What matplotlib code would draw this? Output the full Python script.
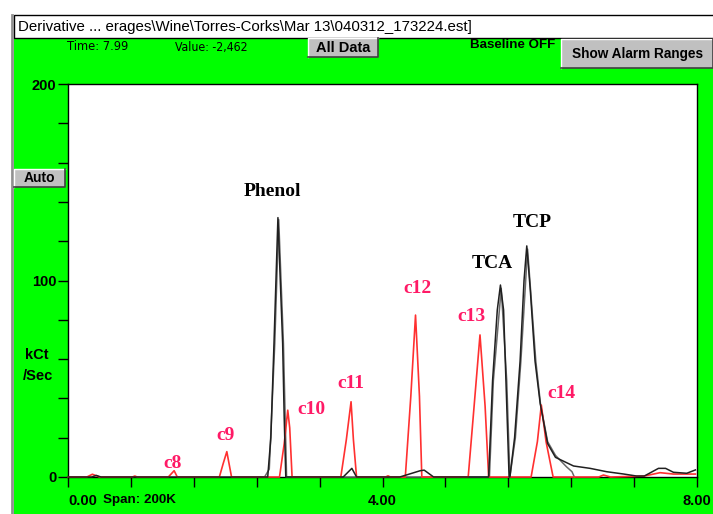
import matplotlib
matplotlib.use("Agg")
import matplotlib.pyplot as plt
from matplotlib.patches import Rectangle

# --- traces (time in min, value in kCt/Sec) ---
black_t = [0.00, 0.30, 0.36, 0.42, 2.54, 2.58, 2.62, 2.67, 2.73, 2.75, 2.77,
           3.50, 3.61, 3.67, 4.22, 4.48, 4.53, 4.65,
           5.35, 5.40, 5.46, 5.50, 5.54, 5.57, 5.61,
           5.62, 5.68, 5.75, 5.80, 5.835, 5.88, 5.94, 6.005, 6.10, 6.20,
           6.43, 6.64, 6.85, 7.07, 7.23, 7.33, 7.51, 7.60, 7.70, 7.87, 7.98]
black_v = [0.0, 0.0, 0.8, 0.0, 0.0, 20.0, 68.0, 132.0, 68.0, 30.0, 0.0,
           0.0, 4.4, 0.0, 0.0, 3.2, 3.5, 0.0,
           0.0, 49.0, 85.0, 97.7, 85.0, 49.0, 0.0,
           0.0, 20.0, 59.0, 100.0, 117.6, 95.0, 59.0, 37.6, 17.0, 10.0,
           5.6, 4.4, 2.7, 1.5, 0.5, 0.5, 4.4, 4.4, 2.4, 1.9, 3.6]

gray_t = [2.50, 2.56, 2.63, 2.68, 2.74, 2.78,
          5.36, 5.41, 5.51, 5.58, 5.62,
          5.69, 5.76, 5.845, 5.95, 6.01, 6.10, 6.20, 6.34, 6.41, 6.44]
gray_v = [0.0, 4.0, 68.0, 131.0, 68.0, 0.0,
          0.0, 49.0, 96.0, 49.0, 0.0,
          20.0, 59.0, 116.0, 59.0, 37.0, 18.0, 11.0, 5.2, 2.7, 0.0]

red_t = [0.00, 0.24, 0.31, 0.40, 0.82, 0.85, 0.88,
         1.276, 1.35, 1.39, 1.925, 1.975, 2.02, 2.08,
         2.69, 2.75, 2.795, 2.82, 2.85,
         3.47, 3.54, 3.60, 3.63, 3.67, 4.04, 4.07, 4.10,
         4.29, 4.36, 4.42, 4.47, 4.50,
         5.09, 5.165, 5.24, 5.305, 5.35,
         5.89, 5.97, 6.02, 6.08, 6.17,
         6.75, 6.81, 6.90, 7.33, 7.53, 7.70, 7.98]
red_v = [0.0, 0.0, 1.4, 0.0, 0.0, 0.5, 0.0,
         0.0, 3.2, 0.0, 0.0, 7.0, 12.9, 0.0,
         0.0, 17.0, 34.0, 25.0, 0.0,
         0.0, 19.0, 38.3, 19.0, 0.0, 0.0, 0.6, 0.0,
         0.0, 41.0, 82.4, 41.0, 0.0,
         0.0, 36.0, 72.3, 36.0, 0.0,
         0.0, 18.0, 36.6, 18.0, 0.0,
         0.0, 1.0, 0.0, 0.5, 2.2, 1.5, 1.5]

black_labels = ["Phenol", "TCA", "TCP"]
black_label_pos = [(2.60, 145.3), (5.395, 108.9), (5.90, 129.7)]
red_labels = ["c8", "c9", "c10", "c11", "c12", "c13", "c14"]
red_label_pos = [(1.335, 7.1), (2.01, 20.9), (3.10, 34.1), (3.60, 47.8),
                 (4.45, 95.7), (5.125, 81.9), (6.28, 42.7)]

title = "Derivative ... erages\\Wine\\Torres-Corks\\Mar 13\\040312_173224.est]"

GREEN = "#00ff00"
BTN = "#c0c0c0"
SANS = ["Liberation Sans", "DejaVu Sans"]
SERIF = ["Liberation Serif", "DejaVu Serif"]

fig = plt.figure(figsize=(7.13, 5.14), dpi=100, facecolor="white")

# window chrome drawn in pixel coordinates
bg = fig.add_axes([0, 0, 1, 1], zorder=0)
bg.set_xlim(0, 713)
bg.set_ylim(514, 0)
bg.axis("off")

bg.add_patch(Rectangle((14, 38), 700, 480, facecolor=GREEN, edgecolor="none"))
bg.add_patch(Rectangle((14, 15), 700, 23, facecolor="white", edgecolor="black", lw=1))
bg.plot([11.5, 11.5], [15, 514], color="#909090", lw=2)
bg.text(18, 26.5, title, fontsize=10.8, family=SANS, va="center", ha="left")


def button(x, y, w, h, label, size):
    bg.add_patch(Rectangle((x, y), w, h, facecolor=BTN, edgecolor="none"))
    bg.plot([x, x, x + w], [y + h, y, y], color="white", lw=1)
    bg.plot([x, x + w, x + w], [y + h, y + h, y], color="#404040", lw=1.2)
    bg.text(x + w / 2, y + h / 2 + 0.5, label, fontsize=size, fontweight="bold",
            family=SANS, ha="center", va="center")


button(308, 38, 70, 19, "All Data", 10.5)
button(561, 39, 152, 29, "Show Alarm Ranges", 9.8)
button(14, 169, 51, 18, "Auto", 10)

bg.text(67, 47, "Time: 7.99", fontsize=9.2, family="DejaVu Sans", fontstretch="condensed", va="center")
bg.text(175, 47, "Value: -2,462", fontsize=8.8, family="DejaVu Sans", fontstretch="condensed", va="center")
bg.text(470, 45, "Baseline OFF", fontsize=9.6, fontweight="bold", family=SANS, va="center")
bg.text(37, 355, "kCt", fontsize=10.5, fontweight="bold", family=SANS, ha="center", va="center")
bg.text(38, 376, "/Sec", fontsize=10.5, fontweight="bold", family=SANS, ha="center", va="center")
bg.text(103, 500, "Span: 200K", fontsize=9.6, fontweight="bold", family=SANS, va="center")

# plot area
ax = fig.add_axes([68 / 713, 37 / 514, 629 / 713, 393 / 514], zorder=1)
ax.set_facecolor("white")
ax.set_xlim(0, 8)
ax.set_ylim(0, 200)
for s in ax.spines.values():
    s.set_color("black")
    s.set_linewidth(1)

ax.plot(gray_t, gray_v, color="#6a6a6a", lw=1.1, zorder=3, clip_on=False)
ax.plot(red_t, red_v, color="#ff3030", lw=1.2, zorder=3, clip_on=False)
ax.plot(black_t, black_v, color="#202020", lw=1.1, zorder=4, clip_on=False)

for lab, (x, y) in zip(black_labels, black_label_pos):
    ax.text(x, y, lab, fontsize=14, fontweight="bold", family=SERIF,
            color="black", ha="center", va="center")
for lab, (x, y) in zip(red_labels, red_label_pos):
    ax.text(x, y, lab, fontsize=14, fontweight="bold", family=SERIF,
            color="#ff1a66", ha="center", va="center")

ax.set_yticks(range(0, 201, 20))
ax.set_yticklabels(["0" if v == 0 else str(v) if v in (100, 200) else "" for v in range(0, 201, 20)])
xt = [i * 0.8 for i in range(11)]
ax.set_xticks(xt)
ax.set_xticklabels(["0.00", "", "", "", "", "4.00", "", "", "", "", "8.00"])
ax.tick_params(axis="both", direction="out", length=7.5, width=1, color="black",
               labelsize=10.5, pad=1)
ax.tick_params(axis="x", pad=5)
for t in ax.get_yticklabels() + ax.get_xticklabels():
    t.set_fontweight("bold")
    t.set_family(SANS)
ax.get_xticklabels()[0].set_ha("left")

fig.savefig("out.png", dpi=100, facecolor="white")
